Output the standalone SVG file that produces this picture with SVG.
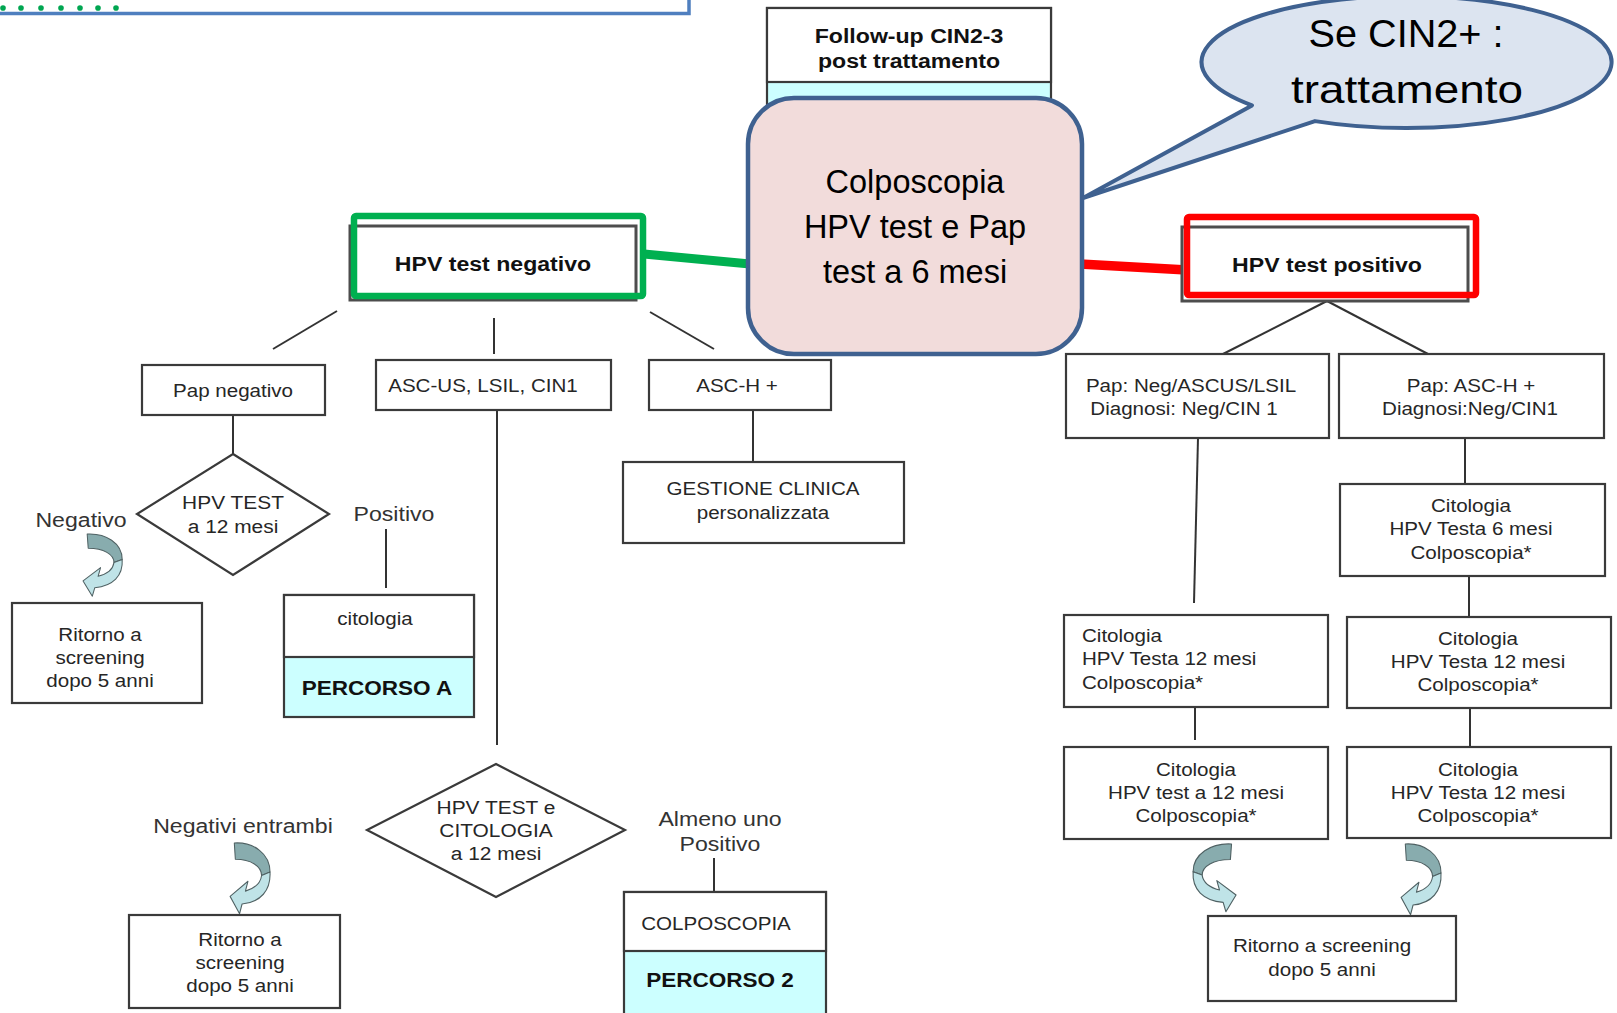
<svg xmlns="http://www.w3.org/2000/svg" width="1617" height="1013" viewBox="0 0 1617 1013">
<style>
.bx{fill:#fff;stroke:#3a3a3a;stroke-width:2.2}
.gb{fill:#fff;stroke:#4d4d4d;stroke-width:3}
.cy{fill:#ccffff;stroke:#3a3a3a;stroke-width:2.2}
.ln{fill:none;stroke:#333;stroke-width:2}
.t{font-family:"Liberation Sans",Arial,sans-serif;font-size:18.7px;fill:#262626;text-anchor:middle}
.tl{text-anchor:start}
.lb{font-size:21px;fill:#333}
.dt{font-size:19px}
.bd{font-weight:bold;font-size:21px;fill:#111}
.pc{font-weight:bold;font-size:20.5px;fill:#111}
.big{font-family:"Liberation Sans",Arial,sans-serif;fill:#000;text-anchor:middle}
.ad{fill:#88acae;stroke:#4f6163;stroke-width:1;stroke-linejoin:round}
.al{fill:#bfe3e7;stroke:#4f6163;stroke-width:1;stroke-linejoin:round}
</style>
<defs>
<g id="carrow">
<path class="ad" d="M6,0 C24,-1 40,9 40,25 L32,28 C32,20 22,14 7,14 Z"/>
<path class="al" d="M40,25 C41,41 31,51 13.4,52.6 L11,61 L2,46 L19,33 L16.6,41.5 C26,39 31,35 32,28 Z"/>
</g>
</defs>
<rect x="0" y="0" width="1617" height="1013" fill="#fff"/>

<g id="connectors">
<line x1="644" y1="254" x2="750" y2="264" stroke="#00b050" stroke-width="9"/>
<line x1="1080" y1="264" x2="1187" y2="270" stroke="#ff0000" stroke-width="9.5"/>
<line class="ln" x1="337" y1="311" x2="273" y2="349"/>
<line class="ln" x1="494" y1="318" x2="494" y2="354"/>
<line class="ln" x1="650" y1="312" x2="714" y2="349"/>
<line class="ln" x1="233" y1="415" x2="233" y2="454"/>
<line class="ln" x1="386" y1="529" x2="386" y2="588"/>
<line class="ln" x1="497" y1="405" x2="497" y2="745" stroke="#555" stroke-width="2.4"/>
<line class="ln" x1="753" y1="409" x2="753" y2="462"/>
<line class="ln" x1="714" y1="858" x2="714" y2="892"/>
<line class="ln" x1="1327" y1="301" x2="1223" y2="354"/>
<line class="ln" x1="1327" y1="301" x2="1428" y2="354"/>
<line class="ln" x1="1198" y1="438" x2="1194" y2="603"/>
<line class="ln" x1="1465" y1="438" x2="1465" y2="484"/>
<line class="ln" x1="1469" y1="576" x2="1469" y2="616"/>
<line class="ln" x1="1195" y1="699" x2="1195" y2="740"/>
<line class="ln" x1="1470" y1="708" x2="1470" y2="747"/>
<use href="#carrow" transform="translate(81,534) scale(1.03,1.02)"/>
<use href="#carrow" transform="translate(228,843) scale(1.05,1.16)"/>
<use href="#carrow" transform="translate(1238.3,844) scale(-1.13,1.11)"/>
<use href="#carrow" transform="translate(1399,844) scale(1.05,1.16)"/>
</g>

<g id="header">
<rect x="-10" y="-20" width="699" height="33.5" fill="#fff" stroke="#4f7fbf" stroke-width="3.5"/>
<g fill="#00a651">
<circle cx="3" cy="8" r="2.8"/><circle cx="21" cy="8" r="2.8"/><circle cx="41" cy="8" r="2.8"/><circle cx="61" cy="8" r="2.8"/><circle cx="80" cy="8" r="2.8"/><circle cx="98" cy="8" r="2.8"/><circle cx="116" cy="8" r="2.8"/>
</g>
</g>

<g id="followup">
<rect x="767" y="8" width="284" height="120" class="cy"/>
<rect x="767" y="8" width="284" height="74" class="bx" stroke-width="2.6"/>
<text class="t bd" transform="translate(909,43) scale(1.1,1)"><tspan x="0" y="0">Follow-up CIN2-3</tspan><tspan x="0" y="25">post trattamento</tspan></text>
</g>

<g id="colposcopia6">
<rect x="748" y="98" width="334" height="256" rx="46" fill="#f2dcdb" stroke="#3f6190" stroke-width="4.5"/>
<text class="big" font-size="32.5"><tspan x="915" y="193">Colposcopia</tspan><tspan x="915" y="238">HPV test e Pap</tspan><tspan x="915" y="283">test a 6 mesi</tspan></text>
</g>

<g id="bubble">
<path d="M1252,105.4 L1083,198 L1315,121.1 A205,66 0 1 0 1252,105.4 Z" fill="#dce4f0" stroke="#3f6190" stroke-width="4" stroke-linejoin="round"/>
<text class="big" font-size="39"><tspan x="1406" y="47" textLength="195" lengthAdjust="spacingAndGlyphs">Se CIN2+ :</tspan><tspan x="1407" y="103" textLength="232" lengthAdjust="spacingAndGlyphs">trattamento</tspan></text>
</g>

<g id="hpvneg">
<rect x="350" y="226" width="286" height="74" class="gb"/>
<rect x="354" y="216" width="289" height="80" rx="2" fill="none" stroke="#00b050" stroke-width="6.5"/>
<text class="t bd" transform="translate(493,271) scale(1.1,1)">HPV test negativo</text>
</g>

<g id="hpvpos">
<rect x="1182" y="227" width="286" height="74" class="gb"/>
<rect x="1187" y="217" width="289" height="78" rx="2" fill="none" stroke="#ff0000" stroke-width="6.5"/>
<text class="t bd" transform="translate(1327,272) scale(1.1,1)">HPV test positivo</text>
</g>

<g id="papneg">
<rect x="142" y="365" width="183" height="50" class="bx"/>
<text class="t" transform="translate(233,397) scale(1.1,1)">Pap negativo</text>
</g>

<g id="ascus">
<rect x="376" y="360" width="235" height="50" class="bx"/>
<text class="t" transform="translate(483,392) scale(1.1,1)">ASC-US, LSIL, CIN1</text>
</g>

<g id="asch">
<rect x="649" y="360" width="182" height="50" class="bx"/>
<text class="t" transform="translate(737,392) scale(1.1,1)">ASC-H +</text>
</g>

<g id="gestione">
<rect x="623" y="462" width="281" height="81" class="bx"/>
<text class="t" transform="translate(763,495) scale(1.1,1)"><tspan x="0" y="0">GESTIONE CLINICA</tspan><tspan x="0" y="24">personalizzata</tspan></text>
</g>

<g id="hpv12">
<polygon points="233,454 329,514 233,575 137,514" class="bx" stroke-width="2"/>
<text class="t dt" transform="translate(233,509) scale(1.1,1)"><tspan x="0" y="0">HPV TEST</tspan><tspan x="0" y="24">a 12 mesi</tspan></text>
</g>

<g id="lbl-negativo">
<text class="t lb" transform="translate(81,527) scale(1.1,1)">Negativo</text>
</g>

<g id="lbl-positivo">
<text class="t lb" transform="translate(394,521) scale(1.1,1)">Positivo</text>
</g>

<g id="ritorno1">
<rect x="12" y="603" width="190" height="100" class="bx"/>
<text class="t" transform="translate(100,641) scale(1.1,1)"><tspan x="0" y="0">Ritorno a</tspan><tspan x="0" y="23">screening</tspan><tspan x="0" y="46">dopo 5 anni</tspan></text>
</g>

<g id="percorsoA">
<rect x="284" y="595" width="190" height="122" class="cy"/>
<rect x="284" y="595" width="190" height="62" class="bx"/>
<text class="t" transform="translate(375,625) scale(1.1,1)">citologia</text>
<text class="t pc" transform="translate(377,695) scale(1.1,1)">PERCORSO A</text>
</g>

<g id="hpvcito12">
<polygon points="496,764 625,830 496,897 367,830" class="bx" stroke-width="2"/>
<text class="t dt" transform="translate(496,814) scale(1.1,1)"><tspan x="0" y="0">HPV TEST e</tspan><tspan x="0" y="23">CITOLOGIA</tspan><tspan x="0" y="46">a 12 mesi</tspan></text>
</g>

<g id="lbl-negentrambi">
<text class="t lb" transform="translate(243,833) scale(1.1,1)">Negativi entrambi</text>
</g>

<g id="lbl-almeno">
<text class="t lb" transform="translate(720,826) scale(1.1,1)"><tspan x="0" y="0">Almeno uno</tspan><tspan x="0" y="25">Positivo</tspan></text>
</g>

<g id="ritorno2">
<rect x="129" y="915" width="211" height="93" class="bx"/>
<text class="t" transform="translate(240,946) scale(1.1,1)"><tspan x="0" y="0">Ritorno a</tspan><tspan x="0" y="23">screening</tspan><tspan x="0" y="46">dopo 5 anni</tspan></text>
</g>

<g id="percorso2">
<rect x="624" y="892" width="202" height="130" class="cy"/>
<rect x="624" y="892" width="202" height="59" class="bx"/>
<text class="t" font-size="16" fill="#444" transform="translate(716,930) scale(1.1,1)">COLPOSCOPIA</text>
<text class="t pc" transform="translate(720,987) scale(1.1,1)">PERCORSO 2</text>
</g>

<g id="r-papneg">
<rect x="1066" y="354" width="263" height="84" class="bx"/>
<text class="t" transform="translate(1191,392) scale(1.1,1)">Pap: Neg/ASCUS/LSIL</text>
<text class="t" transform="translate(1184,415) scale(1.1,1)">Diagnosi: Neg/CIN 1</text>
</g>

<g id="r-papasch">
<rect x="1339" y="354" width="265" height="84" class="bx"/>
<text class="t" transform="translate(1471,392) scale(1.1,1)">Pap: ASC-H +</text>
<text class="t" transform="translate(1470,415) scale(1.1,1)">Diagnosi:Neg/CIN1</text>
</g>

<g id="r-cito6">
<rect x="1340" y="484" width="265" height="92" class="bx"/>
<text class="t" transform="translate(1471,512) scale(1.1,1)"><tspan x="0" y="0">Citologia</tspan><tspan x="0" y="23.5">HPV Testa 6 mesi</tspan><tspan x="0" y="47">Colposcopia*</tspan></text>
</g>

<g id="r-cito12a">
<rect x="1064" y="615" width="264" height="92" class="bx"/>
<text class="t tl" transform="translate(1082,642) scale(1.1,1)"><tspan x="0" y="0">Citologia</tspan><tspan x="0" y="23.5">HPV Testa 12 mesi</tspan><tspan x="0" y="47">Colposcopia*</tspan></text>
</g>

<g id="r-cito12b">
<rect x="1347" y="617" width="264" height="91" class="bx"/>
<text class="t" transform="translate(1478,645) scale(1.1,1)"><tspan x="0" y="0">Citologia</tspan><tspan x="0" y="23">HPV Testa 12 mesi</tspan><tspan x="0" y="46">Colposcopia*</tspan></text>
</g>

<g id="r-cito12c">
<rect x="1064" y="747" width="264" height="92" class="bx"/>
<text class="t" transform="translate(1196,776) scale(1.1,1)"><tspan x="0" y="0">Citologia</tspan><tspan x="0" y="23">HPV test a 12 mesi</tspan><tspan x="0" y="46">Colposcopia*</tspan></text>
</g>

<g id="r-cito12d">
<rect x="1347" y="747" width="264" height="91" class="bx"/>
<text class="t" transform="translate(1478,776) scale(1.1,1)"><tspan x="0" y="0">Citologia</tspan><tspan x="0" y="23">HPV Testa 12 mesi</tspan><tspan x="0" y="46">Colposcopia*</tspan></text>
</g>

<g id="r-ritorno">
<rect x="1208" y="916" width="248" height="85" class="bx"/>
<text class="t" transform="translate(1322,952) scale(1.1,1)"><tspan x="0" y="0">Ritorno a screening</tspan><tspan x="0" y="24">dopo 5 anni</tspan></text>
</g>
</svg>
